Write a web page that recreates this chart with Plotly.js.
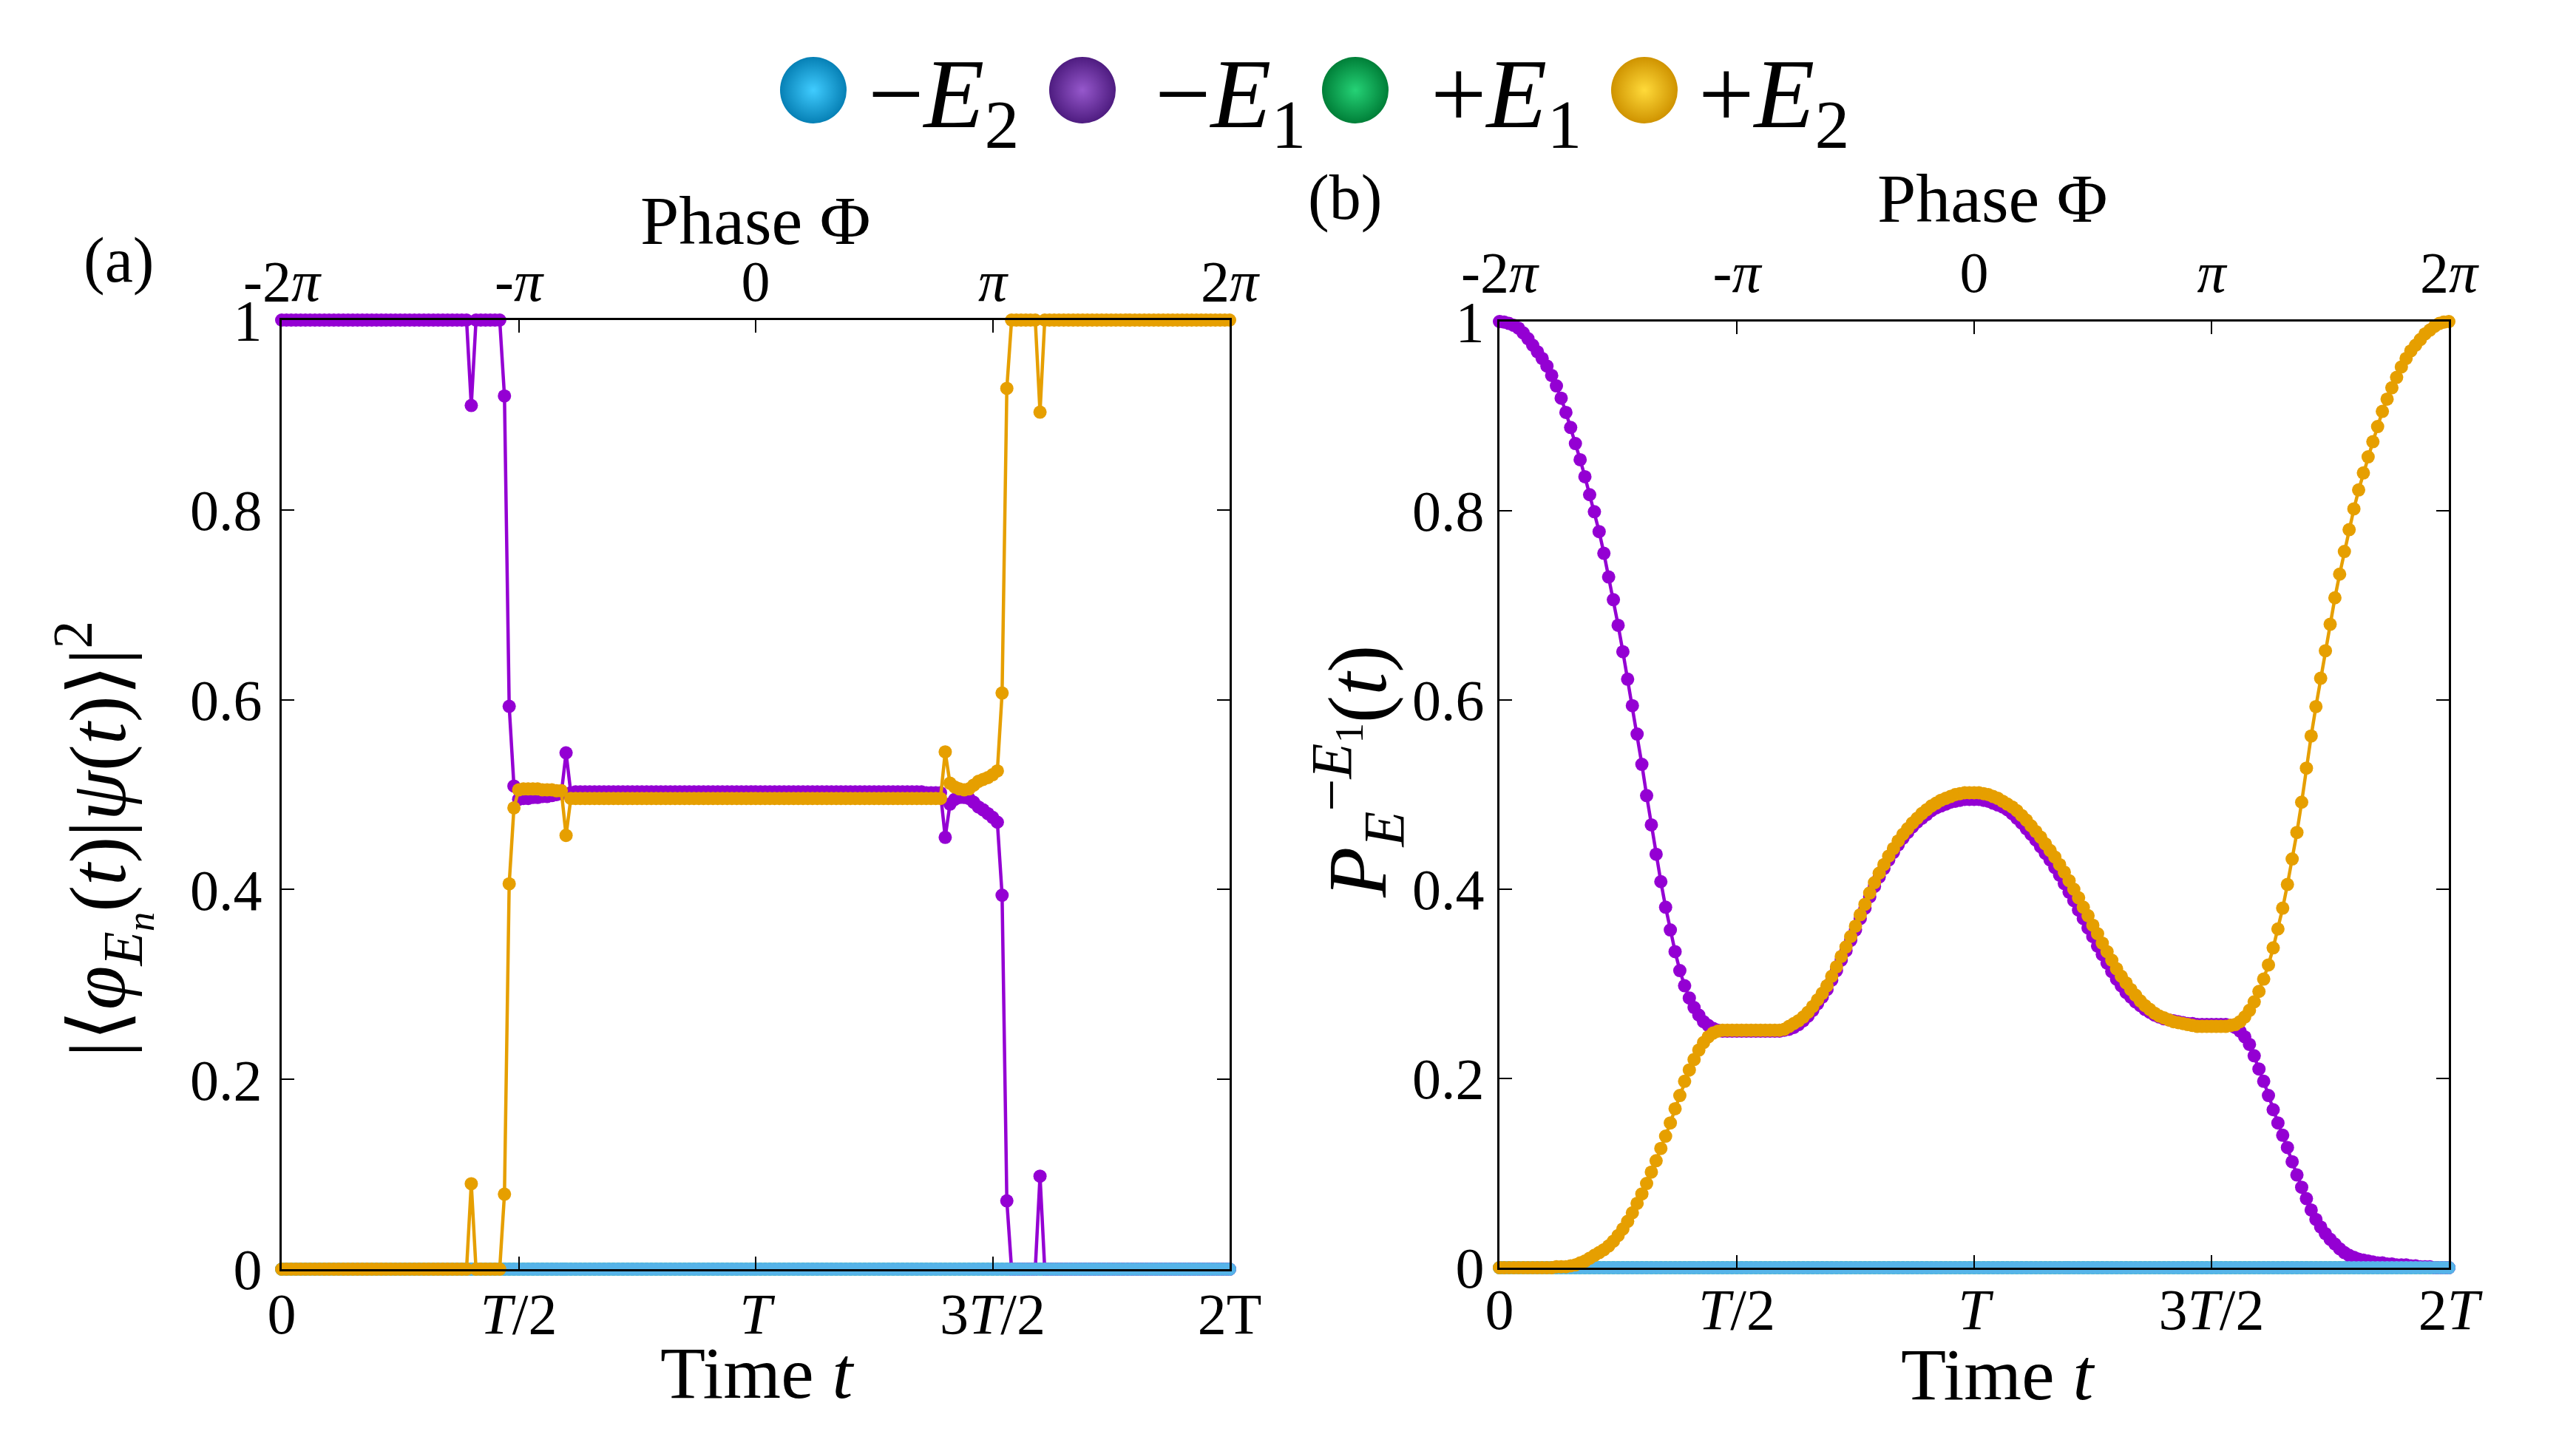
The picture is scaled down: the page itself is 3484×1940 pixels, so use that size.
<!DOCTYPE html>
<html>
<head>
<meta charset="utf-8">
<script src="https://cdn.plot.ly/plotly-3.0.1.min.js"></script>
<style>
html,body{margin:0;padding:0;background:#ffffff;}
#chart{width:3484px;height:1940px;}
</style>
</head>
<body>
<div id="chart"></div>
<script>
// ---------------- DATA ----------------
// time axis: samples every 0.01 T from 0 to 2T (built by Plotly via x0/dx)
const timeStart = 0;
const timeStep = 0.01;

const seriesLabels = ['−<i>E</i><sub>2</sub>', '−<i>E</i><sub>1</sub>', '+<i>E</i><sub>1</sub>', '+<i>E</i><sub>2</sub>'];

const timeTickVals = [0, 0.5, 1, 1.5, 2];
const timeTickTextA = ['0', '<i>T</i>/2', '<i>T</i>', '3<i>T</i>/2', '2T'];
const timeTickTextB = ['0', '<i>T</i>/2', '<i>T</i>', '3<i>T</i>/2', '2<i>T</i>'];
const phaseTickVals = [-2, -1, 0, 1, 2];           // in units of pi
const phaseTickText = ['-2<i>π</i>', '-<i>π</i>', '0', '<i>π</i>', '2<i>π</i>'];
const probTickVals = [0, 0.2, 0.4, 0.6, 0.8, 1];
const probTickText = ['0', '0.2', '0.4', '0.6', '0.8', '1'];

// Panel (a): |<phi_En(t)|psi(t)>|^2
const a_minusE2 = [
0,0,0,0,0,0,0,0,0,0,0,0,0,0,0,0,0,0,0,0,
0,0,0,0,0,0,0,0,0,0,0,0,0,0,0,0,0,0,0,0,
0,0,0,0,0,0,0,0,0,0,0,0,0,0,0,0,0,0,0,0,
0,0,0,0,0,0,0,0,0,0,0,0,0,0,0,0,0,0,0,0,
0,0,0,0,0,0,0,0,0,0,0,0,0,0,0,0,0,0,0,0,
0,0,0,0,0,0,0,0,0,0,0,0,0,0,0,0,0,0,0,0,
0,0,0,0,0,0,0,0,0,0,0,0,0,0,0,0,0,0,0,0,
0,0,0,0,0,0,0,0,0,0,0,0,0,0,0,0,0,0,0,0,
0,0,0,0,0,0,0,0,0,0,0,0,0,0,0,0,0,0,0,0,
0,0,0,0,0,0,0,0,0,0,0,0,0,0,0,0,0,0,0,0,
0];
const a_minusE1 = [
1,1,1,1,1,1,1,1,1,1,1,1,1,1,1,1,1,1,1,1,
1,1,1,1,1,1,1,1,1,1,1,1,1,1,1,1,1,1,1,1,
0.91,1,1,1,1,1,1,0.92,0.593,0.509,0.495,0.496,0.496,0.497,0.497,0.498,0.498,0.499,0.500,0.501,
0.544,0.502,0.503,0.503,0.503,0.503,0.503,0.503,0.503,0.503,0.503,0.503,0.503,0.503,0.503,0.503,0.503,0.503,0.503,0.503,
0.503,0.503,0.503,0.503,0.503,0.503,0.503,0.503,0.503,0.503,0.503,0.503,0.503,0.503,0.503,0.503,0.503,0.503,0.503,0.503,
0.503,0.503,0.503,0.503,0.503,0.503,0.503,0.503,0.503,0.503,0.503,0.503,0.503,0.503,0.503,0.503,0.503,0.503,0.503,0.503,
0.503,0.503,0.503,0.503,0.503,0.503,0.503,0.503,0.503,0.503,0.503,0.503,0.503,0.503,0.503,0.503,0.502,0.502,0.502,0.502,
0.455,0.490,0.495,0.497,0.497,0.496,0.492,0.487,0.484,0.480,0.476,0.471,0.394,0.072,0,0,0,0,0,0,
0.098,0,0,0,0,0,0,0,0,0,0,0,0,0,0,0,0,0,0,0,
0,0,0,0,0,0,0,0,0,0,0,0,0,0,0,0,0,0,0,0,
0];
const a_plusE1 = [
0,0,0,0,0,0,0,0,0,0,0,0,0,0,0,0,0,0,0,0,
0,0,0,0,0,0,0,0,0,0,0,0,0,0,0,0,0,0,0,0,
0,0,0,0,0,0,0,0,0,0,0,0,0,0,0,0,0,0,0,0,
0,0,0,0,0,0,0,0,0,0,0,0,0,0,0,0,0,0,0,0,
0,0,0,0,0,0,0,0,0,0,0,0,0,0,0,0,0,0,0,0,
0,0,0,0,0,0,0,0,0,0,0,0,0,0,0,0,0,0,0,0,
0,0,0,0,0,0,0,0,0,0,0,0,0,0,0,0,0,0,0,0,
0,0,0,0,0,0,0,0,0,0,0,0,0,0,0,0,0,0,0,0,
0,0,0,0,0,0,0,0,0,0,0,0,0,0,0,0,0,0,0,0,
0,0,0,0,0,0,0,0,0,0,0,0,0,0,0,0,0,0,0,0,
0];
const a_plusE2 = [
0,0,0,0,0,0,0,0,0,0,0,0,0,0,0,0,0,0,0,0,
0,0,0,0,0,0,0,0,0,0,0,0,0,0,0,0,0,0,0,0,
0.090,0,0,0,0,0,0,0.079,0.406,0.486,0.505,0.506,0.506,0.506,0.506,0.505,0.505,0.505,0.504,0.504,
0.457,0.496,0.496,0.496,0.496,0.496,0.496,0.496,0.496,0.496,0.496,0.496,0.496,0.496,0.496,0.496,0.496,0.496,0.496,0.496,
0.496,0.496,0.496,0.496,0.496,0.496,0.496,0.496,0.496,0.496,0.496,0.496,0.496,0.496,0.496,0.496,0.496,0.496,0.496,0.496,
0.496,0.496,0.496,0.496,0.496,0.496,0.496,0.496,0.496,0.496,0.496,0.496,0.496,0.496,0.496,0.496,0.496,0.496,0.496,0.496,
0.496,0.496,0.496,0.496,0.496,0.496,0.496,0.496,0.496,0.496,0.496,0.496,0.496,0.496,0.496,0.496,0.496,0.496,0.496,0.496,
0.545,0.512,0.508,0.506,0.505,0.506,0.510,0.514,0.516,0.518,0.521,0.525,0.607,0.928,1,1,1,1,1,1,
0.903,1,1,1,1,1,1,1,1,1,1,1,1,1,1,1,1,1,1,1,
1,1,1,1,1,1,1,1,1,1,1,1,1,1,1,1,1,1,1,1,
1];

// Panel (b): P_E^{-E1}(t)
const b_minusE2 = [
0,0,0,0,0,0,0,0,0,0,0,0,0,0,0,0,0,0,0,0,
0,0,0,0,0,0,0,0,0,0,0,0,0,0,0,0,0,0,0,0,
0,0,0,0,0,0,0,0,0,0,0,0,0,0,0,0,0,0,0,0,
0,0,0,0,0,0,0,0,0,0,0,0,0,0,0,0,0,0,0,0,
0,0,0,0,0,0,0,0,0,0,0,0,0,0,0,0,0,0,0,0,
0,0,0,0,0,0,0,0,0,0,0,0,0,0,0,0,0,0,0,0,
0,0,0,0,0,0,0,0,0,0,0,0,0,0,0,0,0,0,0,0,
0,0,0,0,0,0,0,0,0,0,0,0,0,0,0,0,0,0,0,0,
0,0,0,0,0,0,0,0,0,0,0,0,0,0,0,0,0,0,0,0,
0,0,0,0,0,0,0,0,0,0,0,0,0,0,0,0,0,0,0,0,
0];
const b_minusE1 = [
1.000,0.9995,0.998,0.996,0.993,0.988,0.982,0.975,0.968,0.961,0.953,0.943,0.932,0.919,0.904,0.888,0.871,0.854,0.836,0.817,
0.799,0.778,0.755,0.730,0.706,0.679,0.651,0.622,0.594,0.564,0.532,0.499,0.468,0.437,0.408,0.381,0.357,0.334,0.314,0.298,
0.285,0.275,0.267,0.260,0.256,0.253,0.251,0.250,0.250,0.250,0.250,0.250,0.250,0.250,0.250,0.250,0.250,0.250,0.250,0.250,
0.251,0.252,0.254,0.257,0.261,0.266,0.272,0.279,0.286,0.294,0.304,0.314,0.325,0.335,0.346,0.357,0.369,0.380,0.392,0.403,
0.413,0.422,0.431,0.439,0.447,0.454,0.460,0.466,0.471,0.475,0.479,0.483,0.486,0.488,0.490,0.492,0.493,0.494,0.495,0.495,
0.495,0.495,0.494,0.493,0.491,0.489,0.487,0.484,0.480,0.475,0.470,0.464,0.458,0.452,0.445,0.438,0.431,0.423,0.415,0.406,
0.397,0.388,0.378,0.369,0.359,0.350,0.340,0.331,0.322,0.313,0.305,0.298,0.291,0.286,0.281,0.277,0.273,0.270,0.267,0.265,
0.263,0.262,0.261,0.260,0.259,0.258,0.258,0.257,0.257,0.257,0.257,0.257,0.257,0.257,0.256,0.254,0.250,0.244,0.236,0.224,
0.210,0.197,0.182,0.167,0.153,0.140,0.127,0.112,0.098,0.085,0.073,0.061,0.051,0.043,0.036,0.030,0.025,0.020,0.016,0.013,
0.011,0.009,0.008,0.007,0.006,0.005,0.005,0.004,0.004,0.003,0.003,0.003,0.002,0.002,0.001,0.001,0.001,0,0,0,
0];
const b_plusE1 = [
0,0,0,0,0,0,0,0,0,0,0,0,0,0,0,0,0,0,0,0,
0,0,0,0,0,0,0,0,0,0,0,0,0,0,0,0,0,0,0,0,
0,0,0,0,0,0,0,0,0,0,0,0,0,0,0,0,0,0,0,0,
0,0,0,0,0,0,0,0,0,0,0,0,0,0,0,0,0,0,0,0,
0,0,0,0,0,0,0,0,0,0,0,0,0,0,0,0,0,0,0,0,
0,0,0,0,0,0,0,0,0,0,0,0,0,0,0,0,0,0,0,0,
0,0,0,0,0,0,0,0,0,0,0,0,0,0,0,0,0,0,0,0,
0,0,0,0,0,0,0,0,0,0,0,0,0,0,0,0,0,0,0,0,
0,0,0,0,0,0,0,0,0,0,0,0,0,0,0,0,0,0,0,0,
0,0,0,0,0,0,0,0,0,0,0,0,0,0,0,0,0,0,0,0,
0];
const b_plusE2 = [
0,0,0,0,0,0,0,0,0,0,0,0,0.001,0.001,0.001,0.002,0.003,0.005,0.007,0.010,
0.013,0.016,0.019,0.023,0.028,0.034,0.041,0.049,0.058,0.068,0.078,0.089,0.101,0.113,0.126,0.139,0.153,0.168,0.182,0.197,
0.209,0.220,0.230,0.238,0.244,0.248,0.250,0.251,0.251,0.251,0.251,0.251,0.251,0.251,0.251,0.251,0.251,0.251,0.251,0.251,
0.252,0.255,0.258,0.261,0.265,0.270,0.276,0.283,0.290,0.298,0.308,0.318,0.329,0.339,0.350,0.361,0.373,0.384,0.396,0.407,
0.417,0.426,0.435,0.443,0.451,0.458,0.464,0.470,0.475,0.480,0.484,0.488,0.491,0.494,0.496,0.498,0.500,0.501,0.502,0.502,
0.502,0.502,0.501,0.500,0.498,0.496,0.493,0.490,0.487,0.483,0.478,0.473,0.467,0.461,0.455,0.448,0.441,0.434,0.426,0.418,
0.409,0.400,0.391,0.381,0.372,0.362,0.353,0.343,0.334,0.325,0.316,0.308,0.301,0.294,0.288,0.282,0.277,0.273,0.269,0.266,
0.264,0.262,0.260,0.259,0.258,0.257,0.256,0.255,0.255,0.255,0.255,0.255,0.255,0.255,0.256,0.257,0.260,0.265,0.272,0.281,
0.292,0.305,0.320,0.338,0.358,0.380,0.405,0.432,0.460,0.492,0.528,0.562,0.593,0.623,0.652,0.680,0.708,0.733,0.757,0.780,
0.802,0.822,0.840,0.857,0.873,0.889,0.905,0.918,0.930,0.941,0.952,0.961,0.969,0.975,0.981,0.987,0.991,0.995,0.998,0.9995,
1.000];

// ---------------- STYLE ----------------
const colMinusE2 = '#56B4E9';
const colMinusE1 = '#9400D3';
const colPlusE1  = '#009E73';
const colPlusE2  = '#E69F00';

const legendEdge   = ['#0680b5', '#4e1c80', '#007f38', '#cf9300'];
const legendCenter = ['#40ccff', '#9658cc', '#25d276', '#ffda3a'];
const legendPx = [1100, 1464, 1833, 2224];   // legend bullet positions (px)
const legendPy = [122, 122, 122, 122];
const legendTextPx = [1172, 1560, 1933, 2295];

const FONT = 'Liberation Serif, DejaVu Serif, serif';
const W = 3484, H = 1940;

function series(y, color, xa, ya) {
  return {
    type: 'scatter', mode: 'lines+markers',
    x0: timeStart, dx: timeStep, y: y,
    xaxis: xa, yaxis: ya,
    line: {color: color, width: 4.5},
    marker: {color: color, size: 18},
    cliponaxis: false, hoverinfo: 'skip', showlegend: false
  };
}

const traces = [
  series(a_plusE1,  colPlusE1,  'x',  'y'),
  series(a_minusE1, colMinusE1, 'x',  'y'),
  series(a_minusE2, colMinusE2, 'x',  'y'),
  series(a_plusE2,  colPlusE2,  'x',  'y'),
  series(b_plusE1,  colPlusE1,  'x2', 'y2'),
  series(b_minusE1, colMinusE1, 'x2', 'y2'),
  series(b_minusE2, colMinusE2, 'x2', 'y2'),
  series(b_plusE2,  colPlusE2,  'x2', 'y2'),
  // empty traces so the top (phase) axes are instantiated
  {type:'scatter', x:[], y:[], xaxis:'x3', yaxis:'y', showlegend:false, hoverinfo:'skip'},
  {type:'scatter', x:[], y:[], xaxis:'x4', yaxis:'y2', showlegend:false, hoverinfo:'skip'},
  // custom legend bullets
  {type:'scatter', mode:'markers', x: legendPx, y: legendPy, xaxis:'x5', yaxis:'y5',
   marker:{size: 90, color: legendEdge, gradient:{type:'radial', color: legendCenter}, line:{width:0}},
   cliponaxis:false, hoverinfo:'skip', showlegend:false}
];

const tickFont = {family: FONT, size: 78, color: '#000'};
const base = {
  showgrid: false, zeroline: false, showline: true, linecolor: '#000', linewidth: 3,
  ticks: 'inside', ticklen: 17, tickwidth: 2, tickcolor: '#000', tickfont: tickFont,
  fixedrange: true
};

const domAx = [381 / W, 1663 / W];
const domAy = [1 - 1717 / H, 1 - 433 / H];
const domBx = [2028 / W, 3312 / W];
const domBy = [1 - 1715 / H, 1 - 435 / H];

function ann(text, px, py, size, extra) {
  return Object.assign({
    text: text, xref: 'paper', yref: 'paper', x: px / W, y: 1 - py / H,
    xanchor: 'center', yanchor: 'middle', showarrow: false,
    font: {family: FONT, size: size, color: '#000'}
  }, extra || {});
}

const annotations = [
  ann('(a)', 160, 352, 86),
  ann('(b)', 1819, 267, 86),
  ann('Phase Φ', 1022, 298, 94),
  ann('Phase Φ', 2695, 268, 94),
  ann('Time <i>t</i>', 1024, 1857, 100),
  ann('Time <i>t</i>', 2702, 1859, 100),
  ann('|⟨<i>φ</i><sub><i>E<sub>n</sub></i></sub>(<i>t</i>)|<i>ψ</i>(<i>t</i>)⟩|<sup>2</sup>', 138, 1135, 108, {textangle: -90}),
  ann('<i>P</i><sub><i>E</i></sub><sup>−<i>E</i><sub>1</sub></sup>(<i>t</i>)', 1836, 1044, 112, {textangle: -90})
];
for (let k = 0; k < seriesLabels.length; k++) {
  annotations.push(ann(seriesLabels[k], legendTextPx[k], 137, 134, {xanchor: 'left'}));
}

const layout = {
  width: W, height: H, autosize: false,
  margin: {l: 0, r: 0, t: 0, b: 0, pad: 0},
  paper_bgcolor: '#ffffff', plot_bgcolor: 'rgba(0,0,0,0)',
  showlegend: false,
  font: {family: FONT, color: '#000'},
  xaxis: Object.assign({}, base, {domain: domAx, range: [0, 2], anchor: 'y',
          tickvals: timeTickVals, ticktext: timeTickTextA, ticklabelstandoff: -10}),
  yaxis: Object.assign({}, base, {domain: domAy, range: [0, 1], anchor: 'x',
          tickvals: probTickVals, ticktext: probTickText, mirror: 'ticks', ticklabelstandoff: 8}),
  xaxis3: Object.assign({}, base, {overlaying: 'x', side: 'top', anchor: 'y', range: [-2, 2],
          tickvals: phaseTickVals, ticktext: phaseTickText, ticklabelstandoff: -8}),
  xaxis2: Object.assign({}, base, {domain: domBx, range: [0, 2], anchor: 'y2',
          tickvals: timeTickVals, ticktext: timeTickTextB, ticklabelstandoff: -14}),
  yaxis2: Object.assign({}, base, {domain: domBy, range: [0, 1], anchor: 'x2',
          tickvals: probTickVals, ticktext: probTickText, mirror: 'ticks', ticklabelstandoff: 2}),
  xaxis4: Object.assign({}, base, {overlaying: 'x2', side: 'top', anchor: 'y2', range: [-2, 2],
          tickvals: phaseTickVals, ticktext: phaseTickText, ticklabelstandoff: 6}),
  xaxis5: {domain: [0, 1], range: [0, W], visible: false, anchor: 'y5', fixedrange: true},
  yaxis5: {domain: [0, 1], range: [H, 0], visible: false, anchor: 'x5', fixedrange: true},
  annotations: annotations
};

Plotly.newPlot('chart', traces, layout, {staticPlot: true, displayModeBar: false});
</script>
</body>
</html>
